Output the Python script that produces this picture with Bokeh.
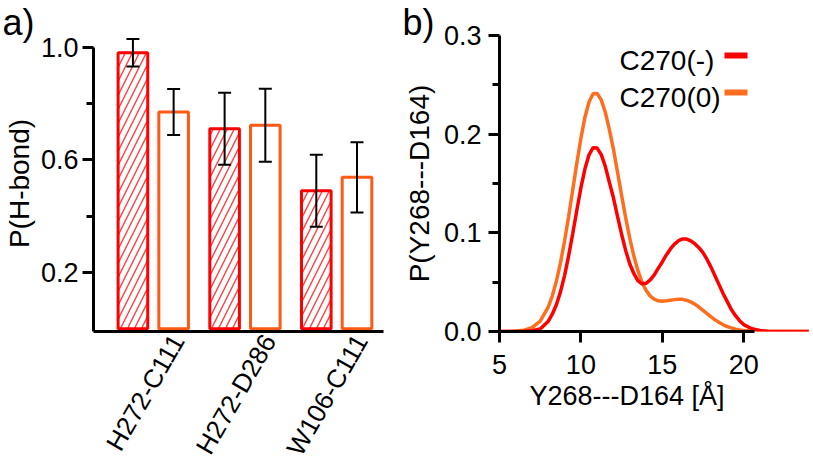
import math
from bokeh.plotting import figure
from bokeh.models import (ColumnDataSource, Range1d, FixedTicker, NumeralTickFormatter,
                          Whisker, TeeHead, Label, BoxAnnotation, Title)
from bokeh.layouts import row
from bokeh.embed import file_html
from bokeh.resources import INLINE

# ---------------- data: panel a ----------------
categories = ["H272-C111", "H272-D286", "W106-C111"]
hbond_minus = [0.981, 0.711, 0.490]
hbond_minus_err = [0.049, 0.128, 0.128]
hbond_zero = [0.770, 0.723, 0.538]
hbond_zero_err = [0.082, 0.130, 0.125]
ya_ticks = [0.2, 0.6, 1.0]
ya_minor = [0.4, 0.8]

# ---------------- data: panel b ----------------
series_labels = ["C270(-)", "C270(0)"]
dist = [5.0, 5.5, 6.0, 6.5, 7.0, 7.5, 8.0, 8.25, 8.5, 8.75, 9.0, 9.25, 9.5, 9.75,
        10.0, 10.25, 10.5, 10.75, 11.0, 11.25, 11.5, 11.75, 12.0, 12.25, 12.5, 12.75,
        13.0, 13.25, 13.5, 13.75, 14.0, 14.25, 14.5, 14.75, 15.0, 15.25, 15.5, 15.75,
        16.0, 16.25, 16.5, 16.75, 17.0, 17.25, 17.5, 17.75, 18.0, 18.25, 18.5, 18.75,
        19.0, 19.25, 19.5, 19.75, 20.0, 20.5, 21.0, 21.5, 22.0, 22.5, 23.0, 23.5, 24.0]
p_minus = [0.0, 0.0, 0.0, 0.0002, 0.0007, 0.0025, 0.0105, 0.0178, 0.0274, 0.0404,
           0.0569, 0.0769, 0.0993, 0.1229, 0.1455, 0.1649, 0.1791, 0.1863, 0.1859,
           0.1793, 0.1674, 0.1511, 0.1355, 0.1166, 0.0986, 0.0822, 0.0687, 0.0588,
           0.0515, 0.0483, 0.0488, 0.0520, 0.0571, 0.0640, 0.0705, 0.0776, 0.0837,
           0.0885, 0.0920, 0.0938, 0.0937, 0.0918, 0.0890, 0.0850, 0.0800, 0.0730,
           0.0650, 0.0560, 0.0470, 0.0380, 0.0300, 0.0220, 0.0160, 0.0110, 0.0070,
           0.0028, 0.0010, 0.0003, 0.0001, 0.0, 0.0, 0.0, 0.0]
p_zero = [0.0, 0.0001, 0.0004, 0.0013, 0.0039, 0.0106, 0.0250, 0.0364, 0.0513, 0.0698,
          0.0919, 0.1168, 0.1436, 0.1705, 0.1957, 0.2172, 0.2326, 0.2409, 0.2412,
          0.2348, 0.2222, 0.2045, 0.1847, 0.1617, 0.1381, 0.1154, 0.0946, 0.0767,
          0.0619, 0.0502, 0.0418, 0.0361, 0.0328, 0.0311, 0.0307, 0.0311, 0.0317,
          0.0323, 0.0327, 0.0326, 0.0315, 0.0300, 0.0277, 0.0248, 0.0215, 0.0182,
          0.0149, 0.0118, 0.0091, 0.0068, 0.0050, 0.0036, 0.0024, 0.0016, 0.0010,
          0.0004, 0.0001, 0.0, 0.0, 0.0, 0.0, 0.0, 0.0]
yb_ticks = [0.0, 0.1, 0.2, 0.3]
yb_minor = [0.05, 0.15, 0.25]
xb_ticks = [5, 10, 15, 20]
xb_title = "Y268---D164 [Å]"

# ---------------- style ----------------
FONT = "Liberation Sans"
FS_TICK = "27px"
FS_LAB = "28px"
RED = "#FF0000"
ORANGE_BAR = "#FF5A14"
ORANGE = "#FF6E1E"


def style_axis(ax, standoff=4):
    ax.axis_line_width = 3
    ax.axis_line_color = "black"
    ax.major_tick_line_width = 3
    ax.minor_tick_line_width = 3
    ax.major_tick_in = 0
    ax.minor_tick_in = 0
    ax.major_tick_out = 11
    ax.minor_tick_out = 7
    ax.major_label_text_font = FONT
    ax.major_label_text_font_size = FS_TICK
    ax.major_label_text_color = "black"
    ax.major_label_standoff = standoff
    ax.axis_label_text_font = FONT
    ax.axis_label_text_font_size = FS_LAB
    ax.axis_label_text_font_style = "normal"
    ax.axis_label_text_color = "black"


def panel_title(text, offset):
    return Title(text=text, align="left", offset=offset, vertical_align="top",
                 standoff=-18, text_font=FONT, text_font_size="36px",
                 text_font_style="normal", text_color="black")


TOP = 35
BOTTOM = 137

# ================= panel a =================
ya_start, ya_end = -0.0102, 1.0422
p1 = figure(width=400, height=471, output_backend="svg", toolbar_location=None,
            x_range=Range1d(-0.152, 3.011), y_range=Range1d(ya_start, ya_end),
            min_border_left=92, min_border_right=17, min_border_top=TOP,
            min_border_bottom=BOTTOM)
p1.outline_line_color = None
p1.xgrid.visible = False
p1.ygrid.visible = False
p1.background_fill_color = "white"
p1.border_fill_color = "white"
p1.title = panel_title("a)", -91)

centers = [i + 0.5 for i in range(len(categories))]
off = 0.222
src = ColumnDataSource(dict(
    xm=[c - off for c in centers], xz=[c + off for c in centers],
    m=hbond_minus, z=hbond_zero,
    m_lo=[v - e for v, e in zip(hbond_minus, hbond_minus_err)],
    m_hi=[v + e for v, e in zip(hbond_minus, hbond_minus_err)],
    z_lo=[v - e for v, e in zip(hbond_zero, hbond_zero_err)],
    z_hi=[v + e for v, e in zip(hbond_zero, hbond_zero_err)],
))
bw = 0.323
p1.vbar(x="xm", top="m", bottom=0, width=bw, source=src, fill_color="white",
        line_color=RED, line_width=3, hatch_pattern="/", hatch_color=RED,
        hatch_alpha=0.75, hatch_scale=14, hatch_weight=1.4)
p1.vbar(x="xz", top="z", bottom=0, width=bw, source=src, fill_color="white",
        line_color=ORANGE_BAR, line_width=3)

for base, lo, hi in (("xm", "m_lo", "m_hi"), ("xz", "z_lo", "z_hi")):
    w = Whisker(source=src, base=base, lower=lo, upper=hi, line_color="black",
                line_width=2, level="annotation",
                upper_head=TeeHead(size=13, line_color="black", line_width=2),
                lower_head=TeeHead(size=13, line_color="black", line_width=2))
    p1.add_layout(w)

yax = p1.yaxis[0]
style_axis(yax, standoff=4)
yax.ticker = FixedTicker(ticks=ya_ticks, minor_ticks=ya_minor)
yax.formatter = NumeralTickFormatter(format="0.0")
yax.bounds = (ya_start, 1.0)
yax.axis_label = "P(H-bond)"
yax.axis_label_standoff = 3

xax = p1.xaxis[0]
style_axis(xax, standoff=5)
xax.major_label_text_font_size = "26px"
label_pos = [round(c + 0.265, 3) for c in centers]
xax.ticker = FixedTicker(ticks=label_pos, minor_ticks=[])
xax.major_label_overrides = {k: v for k, v in zip(label_pos, categories)}
xax.major_tick_out = 0
xax.minor_tick_out = 0
xax.major_label_orientation = math.radians(60)

# ================= panel b =================
p2 = figure(width=413, height=471, output_backend="svg", toolbar_location=None,
            x_range=Range1d(5, 24.29), y_range=Range1d(0, 0.3),
            min_border_left=98, min_border_right=0, min_border_top=TOP,
            min_border_bottom=BOTTOM)
p2.outline_line_color = None
p2.xgrid.visible = False
p2.ygrid.visible = False
p2.background_fill_color = "white"
p2.border_fill_color = "white"
p2.title = panel_title("b)", -97)

p2.line(dist, p_zero, line_color=ORANGE, line_width=3.5)
p2.line(dist, p_minus, line_color=RED, line_width=3.5)

y2 = p2.yaxis[0]
style_axis(y2, standoff=7)
y2.ticker = FixedTicker(ticks=yb_ticks, minor_ticks=yb_minor)
y2.formatter = NumeralTickFormatter(format="0.0")
y2.axis_label = "P(Y268---D164)"
y2.axis_label_standoff = 6

x2 = p2.xaxis[0]
style_axis(x2, standoff=12)
x2.ticker = FixedTicker(ticks=xb_ticks, minor_ticks=[])
x2.bounds = (5, 20.68)

# x-axis title, placed under the tick labels (left-offset like the original)
p2.add_layout(Title(text=xb_title, align="left", offset=30, vertical_align="top",
                    standoff=8, text_font=FONT, text_font_size="27px",
                    text_font_style="normal", text_color="black"), "below")

# legend (label first, then colour swatch)
leg_colors = [RED, ORANGE]
for i, (lab, col) in enumerate(zip(series_labels, leg_colors)):
    row_y = 266 - 37 * i
    p2.add_layout(Label(x=120, y=row_y + 5, x_units="screen", y_units="screen",
                        text=lab, text_font=FONT, text_font_size=FS_LAB,
                        text_color="black", text_baseline="alphabetic",
                        text_align="left"))
    p2.add_layout(BoxAnnotation(left=225, right=248, bottom=row_y + 7,
                                top=row_y + 13, left_units="screen",
                                right_units="screen", bottom_units="screen",
                                top_units="screen", fill_color=col, fill_alpha=1,
                                line_alpha=0, level="annotation"))

layout = row(p1, p2)
open("out.html", "w").write(file_html(layout, INLINE))
